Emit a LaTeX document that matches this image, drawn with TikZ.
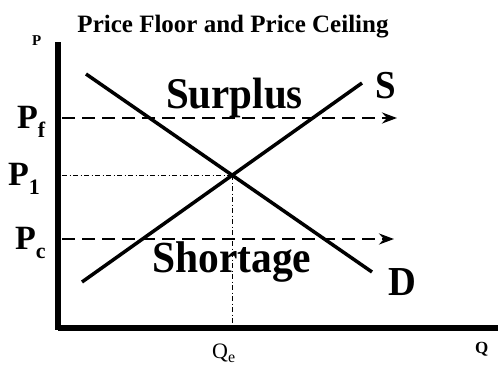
\documentclass[tikz,border=0pt]{standalone}
\usepackage{fontspec}
\setmainfont{Liberation Serif}
\usetikzlibrary{arrows.meta,positioning,calc}
\newcommand{\pricelbl}[2]{#1\raisebox{-9pt}{\fontsize{22}{22}\selectfont #2}}
\newcommand{\tallbox}[1]{\scalebox{1}[1.07]{#1}}

\begin{document}
\begin{tikzpicture}[
  x=1pt, y=-1pt,
  txt/.style={inner sep=0pt, anchor=base west, font=\bfseries},
  biglbl/.style={txt, font=\bfseries\fontsize{41}{41}\selectfont},
  plbl/.style={txt, font=\bfseries\fontsize{34}{34}\selectfont},
  axis/.style={line width=6pt},
  curve/.style={line width=3.5pt},
  ctrl/.style={line width=2.5pt, dash pattern=on 13pt off 7pt, -{Stealth[length=15pt, width=11pt, inset=5pt]}},
  guide/.style={line width=0.8pt, dash pattern=on 5pt off 2.5pt on 1pt off 2.5pt}
]
  \useasboundingbox (0,0) rectangle (498,368);

  % --- 1. AXES ---
  \coordinate (origin) at (58,327.5);
  \coordinate (ptop) at (58,42);
  \coordinate (qend) at (498,327.5);
  \draw[axis] (ptop) -- (origin |- 0,330);
  \draw[axis] (origin) -- (qend);

  \node[txt, font=\bfseries\fontsize{25}{25}\selectfont, anchor=base] (title) at (233,32) {Price Floor and Price Ceiling};
  \node[txt, font=\bfseries\fontsize{15}{15}\selectfont] (plabel) at (32,45) {P};
  \node[txt, font=\bfseries\fontsize{17}{17}\selectfont] (qlabel) at (475,353) {Q};

  % --- 2. SUPPLY AND DEMAND ---
  \coordinate (s0) at (82,282);
  \coordinate (s1) at (362,83);
  \coordinate (d0) at (86,74);
  \coordinate (d1) at (372,272);
  \draw[curve] (s0) -- (s1);
  \draw[curve] (d0) -- (d1);
  \node[biglbl, font=\bfseries\fontsize{37}{37}\selectfont] (slabel) at (375,98) {\tallbox{S}};
  \node[biglbl, font=\bfseries\fontsize{38.5}{38.5}\selectfont] (dlabel) at (388,295) {\tallbox{D}};

  % --- 3. EQUILIBRIUM ---
  \coordinate (eq) at (232,175);
  \coordinate (p1) at (62,175);
  \coordinate (qe) at (232,325);
  \draw[guide] (p1) -- (eq);
  \draw[guide] (eq) -- (qe);
  \node[plbl] (p1label) at (8,185) {\pricelbl{P}{1}};
  \node[txt, font=\fontsize{22}{22}\selectfont] (qelabel) at (212,358) {Q\raisebox{-4pt}{\fontsize{16}{16}\selectfont e}};

  % --- 4. FLOOR AND CEILING ---
  \coordinate (pf0) at (62,118);
  \coordinate (pf1) at (397,118);
  \coordinate (pc0) at (62,239);
  \coordinate (pc1) at (394,239);
  \draw[ctrl] (pf0) -- (pf1);
  \draw[ctrl] (pc0) -- (pc1);
  \node[plbl] (pflabel) at (17,128) {\pricelbl{P}{f}};
  \node[plbl] (pclabel) at (15,249) {\pricelbl{P}{c}};
  \node[biglbl] (surplus) at (166,108) {\tallbox{Surplus}};
  \node[biglbl, font=\bfseries\fontsize{41.5}{41.5}\selectfont] (shortage) at (152,272) {\tallbox{Shortage}};

\end{tikzpicture}
\end{document}
